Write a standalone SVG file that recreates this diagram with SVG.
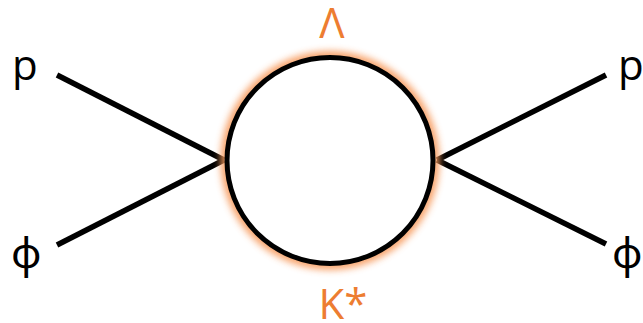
<svg xmlns="http://www.w3.org/2000/svg" width="643" height="323" viewBox="0 0 643 323">
<defs>
<style>
.lbl{font-family:"Open Sans","Noto Sans","DejaVu Sans",sans-serif;font-size:42px;fill:#000}
.or{fill:#ED7D31}
.ln{stroke:#000;stroke-width:5.5;stroke-linecap:butt;fill:none}
</style>
<filter id="glow" x="-20%" y="-20%" width="140%" height="140%">
<feGaussianBlur stdDeviation="3.5"/>
</filter>
</defs>
<g id="connectors">
<line class="ln" x1="57" y1="75" x2="224" y2="160"/>
<line class="ln" x1="57" y1="245" x2="224" y2="160"/>
<line class="ln" x1="437" y1="160" x2="606" y2="75"/>
<line class="ln" x1="437" y1="160" x2="606" y2="244"/>
</g>
<g id="loop">
<circle cx="330" cy="160.5" r="104" fill="none" stroke="#F79A5C" stroke-width="11" filter="url(#glow)" opacity="0.9"/>
<circle cx="330" cy="160.5" r="103" fill="#fff" stroke="#000" stroke-width="5"/>
</g>
<g id="label-p-left"><text class="lbl" x="12" y="80">p</text></g>
<g id="label-phi-left"><text class="lbl" x="11" y="268">ϕ</text></g>
<g id="label-p-right"><text class="lbl" x="618" y="80">p</text></g>
<g id="label-phi-right"><text class="lbl" x="612" y="268">ϕ</text></g>
<g id="label-lambda"><text class="lbl or" x="332" y="38" text-anchor="middle">Λ</text></g>
<g id="label-kstar"><text class="lbl or" x="343" y="319" text-anchor="middle">K*</text></g>
</svg>
